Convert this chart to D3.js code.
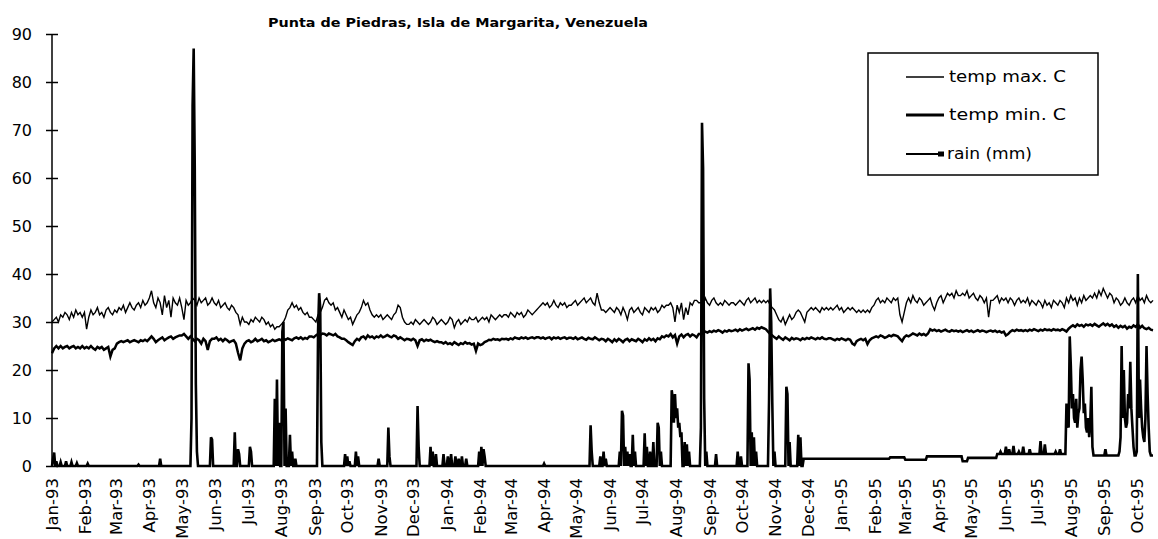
<!DOCTYPE html>
<html>
<head>
<meta charset="utf-8">
<script src="https://cdn.jsdelivr.net/npm/d3@7"></script>
<style>
  body { margin: 0; background: #fff; }
  svg { display: block; }
  text { font-family: "DejaVu Sans", sans-serif; fill: #000; }
</style>
</head>
<body>
<svg id="chart" width="1158" height="539"></svg>
<script>
// Daily weather record, Punta de Piedras station, Jan 1993 - Oct 1995
const chartTitle = "Punta de Piedras, Isla de Margarita, Venezuela";
const seriesNames = ["temp max. C", "temp min. C", "rain (mm)"];

// Temperature readings, one value every 2 days starting on firstDay
const firstDay = "1993-01-01";
const lastDay = "1995-10-16";
const stepDays = 2;

const tempMax = [
  30, 30.5, 31, 30, 31.5, 31, 32, 31.5, 30.5, 32, 31, 32.5, 31.5, 32, 31,
  32, 28.5, 31, 32.5, 31.5, 32, 33, 31.5, 32, 31, 32.5, 33, 32, 31.5, 32.5,
  32, 33, 32.5, 33.5, 32, 33, 34, 33, 32.5, 33.5, 34, 33, 34.5, 33.5, 34,
  35, 36.5, 34, 33, 35, 34, 31.5, 35.5, 33, 34.5, 31, 35, 34, 33.5, 35,
  33, 30.5, 34.5, 33.5, 34, 35, 34.5, 33.5, 35, 34, 34.5, 35, 33.5, 34, 35,
  34, 33.5, 34.5, 33, 33.5, 34, 33, 32.5, 33.5, 33, 32, 31.5, 29.5, 31, 30,
  30, 29.5, 30.5, 30, 31, 30.5, 30, 31, 30.5, 29.5, 30, 29, 29.5, 28.5, 29,
  29, 29.5, 30, 31, 32.5, 33, 34, 33, 33.5, 32.5, 33, 32, 31.5, 32, 31,
  31, 30.5, 30, 31.5, 32, 33, 34.5, 35, 34, 33.5, 34, 32.5, 33, 32, 31,
  32.5, 31.5, 30.5, 31, 29.5, 30.5, 31.5, 32, 33, 34.5, 33.5, 34, 32.5, 31.5, 31,
  31.5, 31, 31.5, 30.5, 31, 31.5, 31, 30.5, 31.5, 32, 33.5, 33, 31, 30, 29.5,
  29.5, 30, 29.5, 30.5, 30, 29.5, 30, 30.5, 30, 29.5, 30, 31, 30.5, 29.5, 30,
  30.5, 30, 29.5, 30, 31, 30.5, 28.8, 30, 30.5, 29.5, 30, 30.5, 30, 31, 30.5,
  30.5, 31, 30, 30.5, 31, 30.5, 31, 30, 31.5, 31, 30.5, 31, 31.5, 31, 31.5,
  31.5, 31, 32, 31.5, 31, 32, 31.5, 32, 31, 31.5, 32.5, 32, 31.5, 32, 32.5,
  33, 33.5, 34, 33.5, 34, 33, 33.5, 34.5, 33.5, 33, 34, 33.5, 34, 33, 33.5,
  33.5, 34, 34.5, 33.5, 34, 34.5, 35, 34, 34.5, 35, 34, 33.5, 36, 34, 32.5,
  32.5, 32, 32.5, 33, 32.5, 32, 33, 32.5, 31.5, 33, 32, 30.5, 32.5, 33, 32,
  32.5, 33, 32, 31.5, 33, 32.5, 32, 33, 32.5, 33, 32, 32.5, 33.5, 33, 33.5,
  33.5, 34, 33, 30, 33.5, 32, 34, 30.5, 33, 31.5, 34, 33.5, 34.5, 34.5, 34,
  34, 33.5, 35, 34, 33.5, 34.5, 35, 34, 33.5, 34, 33.5, 34.5, 34, 33.5, 34,
  34, 33.5, 34, 34.5, 34, 33.5, 34.5, 35, 34, 34.5, 35, 34, 34.5, 34, 34.5,
  34, 34.5, 33.5, 33, 32.5, 31.5, 30.5, 30, 31, 29.5, 30.5, 31.5, 30.5, 31, 32,
  32.5, 32, 31, 30, 32, 32.5, 33, 32.5, 33, 32.5, 32, 33, 32.5, 33, 32.5,
  33, 32.5, 33, 33.5, 32.5, 33, 32, 32.5, 33, 32.5, 33, 32.5, 32, 32.5, 32,
  32.5, 32, 32.5, 32, 33, 33.5, 34.5, 35, 34, 34.5, 34, 35, 34.5, 34, 35,
  34.5, 35, 31.5, 30, 32, 34, 35, 34, 35.5, 34.5, 34, 35, 34.5, 33.5, 34,
  34.5, 35, 33.5, 32.5, 34, 35, 35.5, 34, 35, 36, 35.5, 36, 35, 36.5, 35.5,
  35.5, 36, 35.5, 36.5, 35, 35.5, 36, 35, 34.5, 35.5, 35, 34, 35, 31, 34.5,
  34.5, 35, 35.5, 34, 35, 34.5, 35, 34, 35, 34.5, 33.5, 34.5, 35, 34, 34.5,
  34, 35, 33.5, 34.5, 34, 33.5, 34.5, 34, 33, 34.5, 33.5, 34, 33, 34.5, 34,
  33.5, 34.5, 34, 33, 35, 34, 35.5, 34.5, 35, 33.5, 35, 34, 35.5, 34.5, 35,
  35.5, 35, 36, 35, 36.5, 35.5, 37, 36, 35, 36, 35.5, 34, 35, 34.5, 33.5,
  34, 35, 34, 33.5, 34.5, 35, 34, 35.5, 34.5, 35, 34, 35.5, 34.5, 34, 34.5
];

const tempMin = [
  23.5, 24.5, 25, 24.5, 25, 24.5, 24.8, 25, 24.5, 24.8, 25, 24.5, 24.8, 24.5, 25,
  24.5, 24.8, 24.5, 25, 24.5, 24.2, 24.8, 24.5, 24.8, 24.2, 24.5, 24.8, 22.8, 24.2, 24.5,
  25.5, 25.8, 26, 25.8, 26, 26.2, 25.8, 26, 26.2, 26, 25.8, 26.2, 26, 26.3, 26,
  26.5, 27, 26.5, 25.8, 26.2, 26.5, 26.8, 26.2, 26.5, 26.8, 27, 26.5, 26.8, 27, 27.2,
  27.2, 27.5, 27, 26.5, 27, 26.5, 26, 26.5, 26.2, 25.5, 26.5, 26, 24.2, 26, 26.5,
  26.5, 26.8, 26.2, 26.5, 26, 26.5, 26.2, 25.8, 26, 26.2, 25.5, 23.6, 22, 24.5, 25.5,
  26, 26.2, 25.8, 26, 26.5, 26, 26.2, 26.5, 26, 26.2, 25.8, 26, 26.3, 26, 26.2,
  26.4, 26.2, 26.5, 26.3, 26.6, 26.4, 26.2, 26.6, 26.8, 26.5, 26.8, 26.4, 26.7, 26.5, 27,
  27, 26.8, 27.2, 27.5, 27.3, 27.6, 27.5, 27.2, 27.6, 27.4, 27.2, 27.5, 27, 26.8, 26.5,
  26.5, 26.2, 25.8, 25.5, 25.2, 26, 26.5, 26.2, 26.8, 27, 26.5, 27.2, 26.8, 27, 26.6,
  27, 26.8, 27.2, 26.8, 27, 27.3, 27, 26.8, 27.2, 27, 26.5, 26.8, 26.5, 26.2, 26.5,
  26.4, 26.2, 26.5, 26.2, 25, 26.2, 26.4, 26, 26.3, 26.1, 26.3, 26, 25.8, 26, 25.8,
  25.8, 25.5, 25.8, 25.4, 25.6, 25.3, 25.8, 25.5, 25.2, 25.6, 25.4, 25.8, 25.5, 25.6, 25.3,
  25.5, 24, 25.5, 25.2, 25.4, 25.8, 26, 26.3, 26.2, 26.5, 26.3, 26.4, 26.2, 26.5, 26.4,
  26.5, 26.3, 26.6, 26.4, 26.8, 26.6, 26.5, 26.8, 26.6, 26.8, 26.5, 26.7, 26.8, 26.6, 26.8,
  26.8, 26.6, 26.8, 26.5, 26.7, 26.8, 26.4, 26.8, 26.6, 26.8, 26.5, 26.7, 26.8, 26.5, 26.7,
  26.7, 26.5, 26.8, 26.4, 26.6, 26.8, 26.5, 26.3, 26.7, 26.5, 26.4, 26.8, 26.5, 26.2, 26.5,
  26.4, 26, 26.5, 26.2, 25.8, 26.4, 26, 26.5, 26.2, 25.8, 26.3, 26.5, 26, 26.4, 26.2,
  26, 26.5, 26.2, 25.8, 26.4, 26.1, 26.6, 26.2, 26.5, 26, 26.6, 26.4, 27, 26.8, 27.2,
  27, 27.5, 26.8, 27.3, 25.5, 27, 27.4, 26.8, 27.3, 27.5, 27, 27.4, 27.2, 26.8, 27.5,
  27.5, 27.8, 28, 27.8, 28.1, 27.9, 28.2, 28, 28.3, 28.1, 27.8, 28.2, 28, 28.3, 28.1,
  28.2, 28.4, 28.1, 28.5, 28.2, 28.4, 28.6, 28.3, 28.5, 28.7, 28.4, 28.8, 28.6, 28.9, 28.7,
  28.5, 28, 27.5, 27.2, 26.8, 26.5, 27, 26.6, 26.3, 26.8, 26.5, 26.2, 26.7, 26.4, 26.6,
  26.5, 26.2, 26.6, 26.4, 26.7, 26.5, 26.8, 26.6, 26.4, 26.7, 26.5, 26.8, 26.5, 26.4, 26.6,
  26.6, 26.4, 26.2, 26.5, 26.3, 26.6, 26.4, 26.2, 26.5, 26.3, 25.5, 25.2, 26, 26.3, 26.5,
  26.2, 26.5, 25.4, 26.2, 26.6, 26.8, 27, 26.8, 27.2, 27, 26.7, 26.9, 27.2, 27, 27.3,
  27.2, 27, 26.5, 26, 26.8, 27.2, 27, 27.3, 27.6, 27.4, 27.2, 27.6, 27.3, 27.5, 27.2,
  27.6, 28.5, 28.2, 28.4, 28.1, 28.3, 28, 28.2, 28.4, 28.1, 28, 28.3, 28.1, 28.2, 28,
  28.2, 27.9, 28.1, 28.3, 28, 28.2, 27.9, 28.1, 28.3, 28, 28.2, 28.1, 27.9, 28.1, 28.2,
  28, 28.2, 27.9, 28.1, 27.8, 28, 27.2, 27.5, 28, 28.3, 28.1, 28.4, 28.2, 28.3, 28.1,
  28.3, 28.1, 28.4, 28.2, 28.5, 28.3, 28.1, 28.4, 28.2, 28.5, 28.3, 28.4, 28.2, 28.5, 28.3,
  28.4, 28.2, 28.5, 28.3, 28, 28.6, 29, 29.3, 29, 29.5, 29.2, 29.4, 29, 29.5, 29.3,
  29.5, 29.2, 29.6, 29.3, 29, 29.4, 29.7, 29.3, 29.6, 29.2, 29.5, 29, 29.3, 28.8, 29.2,
  28.9, 29.2, 28.6, 29, 28.8, 29.3, 29, 29.5, 28.8, 29.2, 28.7, 28.5, 28.8, 28.4, 28.3
];

// Trace rainfall level recorded over longer stretches: [from, to, mm]
const rainTrace = [
  ["1994-11-27", "1995-02-14", 1.5],
  ["1995-02-15", "1995-02-28", 1.8],
  ["1995-03-01", "1995-03-20", 1.3],
  ["1995-03-21", "1995-04-22", 2],
  ["1995-04-23", "1995-04-27", 1],
  ["1995-04-28", "1995-05-24", 1.7],
  ["1995-05-25", "1995-07-27", 2.5],
  ["1995-08-22", "1995-10-16", 2.2]
];

// Rain days and amounts (mm)
const rainDays = [
  "1993-01-02", "1993-01-03", "1993-01-05", "1993-01-09", "1993-01-14", "1993-01-19", "1993-01-24",
  "1993-02-03", "1993-03-22", "1993-04-11",
  "1993-05-10", "1993-05-11", "1993-05-12", "1993-05-13", "1993-05-14", "1993-05-15",
  "1993-05-28", "1993-05-29", "1993-06-19", "1993-06-22", "1993-06-23", "1993-07-03", "1993-07-04",
  "1993-07-26", "1993-07-28", "1993-07-30", "1993-08-02", "1993-08-03", "1993-08-05", "1993-08-09", "1993-08-11", "1993-08-14",
  "1993-09-04", "1993-09-05", "1993-09-06", "1993-09-07",
  "1993-09-29", "1993-10-01", "1993-10-03", "1993-10-09", "1993-10-11",
  "1993-10-30", "1993-11-08", "1993-11-09",
  "1993-12-05", "1993-12-06", "1993-12-17", "1993-12-19", "1993-12-22", "1993-12-29",
  "1994-01-02", "1994-01-05", "1994-01-09", "1994-01-12", "1994-01-15", "1994-01-19",
  "1994-01-31", "1994-02-02", "1994-02-04", "1994-02-05", "1994-04-01",
  "1994-05-14", "1994-05-15", "1994-05-23", "1994-05-26", "1994-05-28",
  "1994-06-10", "1994-06-12", "1994-06-13", "1994-06-15", "1994-06-17", "1994-06-19", "1994-06-22", "1994-06-24",
  "1994-07-03", "1994-07-05", "1994-07-08", "1994-07-11", "1994-07-15", "1994-07-16", "1994-07-18",
  "1994-07-28", "1994-07-29", "1994-07-30", "1994-07-31", "1994-08-01", "1994-08-02", "1994-08-03", "1994-08-04",
  "1994-08-05", "1994-08-06", "1994-08-09", "1994-08-11", "1994-08-13",
  "1994-08-24", "1994-08-25", "1994-08-26", "1994-08-27", "1994-08-29",
  "1994-09-07", "1994-09-27", "1994-09-30",
  "1994-10-07", "1994-10-08", "1994-10-10", "1994-10-12", "1994-10-14",
  "1994-10-26", "1994-10-27", "1994-10-28", "1994-10-29", "1994-10-31",
  "1994-11-11", "1994-11-12", "1994-11-14", "1994-11-22", "1994-11-24",
  "1995-05-28", "1995-06-02", "1995-06-05", "1995-06-09", "1995-06-14", "1995-06-18", "1995-06-24",
  "1995-07-04", "1995-07-08", "1995-07-18", "1995-07-22",
  "1995-07-28", "1995-07-29", "1995-07-30", "1995-07-31", "1995-08-01", "1995-08-02", "1995-08-03", "1995-08-04",
  "1995-08-05", "1995-08-06", "1995-08-07", "1995-08-08", "1995-08-09", "1995-08-10", "1995-08-11", "1995-08-12",
  "1995-08-13", "1995-08-14", "1995-08-15", "1995-08-16", "1995-08-17", "1995-08-18", "1995-08-19", "1995-08-20", "1995-08-21",
  "1995-09-02", "1995-09-15", "1995-09-16", "1995-09-17", "1995-09-18", "1995-09-19", "1995-09-20", "1995-09-21",
  "1995-09-22", "1995-09-23", "1995-09-24", "1995-09-25", "1995-09-26", "1995-09-27", "1995-09-28", "1995-10-01",
  "1995-10-02", "1995-10-03", "1995-10-04", "1995-10-05", "1995-10-06", "1995-10-07", "1995-10-08", "1995-10-09",
  "1995-10-10", "1995-10-11", "1995-10-12", "1995-10-13"
];
const rainMm = [
  1.5, 2.8, 1, 0.8, 1, 0.8, 0.6,
  0.5, 0.3, 1.5,
  10, 75, 87, 62, 17, 3,
  6, 5.5, 7, 3.5, 2.5, 4, 3,
  14, 18, 9, 28, 30, 12, 6.5, 3, 1.5,
  28, 36, 33, 5,
  2.5, 2, 1, 3, 2,
  1.5, 8, 2,
  12.5, 4, 4, 3, 2.5, 2.5,
  2, 2.5, 2, 1.5, 2, 1.5,
  3, 4, 3.5, 2, 0.5,
  8.5, 3, 2, 3, 1.5,
  3, 11.5, 10.5, 4, 3, 2.5, 6.5, 3,
  6.8, 4, 3, 5, 9, 8, 3,
  15.8, 14, 9, 15, 10, 12, 8, 9,
  6, 7, 5, 4.5, 3,
  8, 71.5, 62, 14, 3,
  2.5, 3, 2,
  21.4, 18, 7, 6, 3,
  13.7, 37, 30, 13, 3,
  16.5, 15, 5, 6.5, 6,
  3, 4, 3.5, 4.2, 3, 4, 3.5,
  5.2, 4.5, 3, 3.5,
  13, 9, 8, 27, 21, 12, 15, 10,
  9, 14, 8, 11, 12, 20, 22.8, 18,
  11, 13, 8, 7, 10, 6, 9, 16.5, 4,
  3.5, 3, 6, 25, 10, 20, 10, 8,
  9, 15, 12, 21.7, 12, 8, 4, 3,
  40, 10, 18, 12, 8, 6, 5, 10,
  25, 15, 8, 3
];

const yTicks = [0, 10, 20, 30, 40, 50, 60, 70, 80, 90];
const monthLabels = [
  "Jan-93", "Feb-93", "Mar-93", "Apr-93", "May-93", "Jun-93", "Jul-93", "Aug-93", "Sep-93", "Oct-93", "Nov-93", "Dec-93",
  "Jan-94", "Feb-94", "Mar-94", "Apr-94", "May-94", "Jun-94", "Jul-94", "Aug-94", "Sep-94", "Oct-94", "Nov-94", "Dec-94",
  "Jan-95", "Feb-95", "Mar-95", "Apr-95", "May-95", "Jun-95", "Jul-95", "Aug-95", "Sep-95", "Oct-95"
];

// ---------- build series ----------
const parseDay = d3.utcParse("%Y-%m-%d");
const parseMonth = d3.utcParse("%b-%y");
const t0 = parseDay(firstDay), t1 = parseDay(lastDay);

const maxSeries = tempMax.map((v, i) => ({ date: d3.utcDay.offset(t0, i * stepDays), value: v }));
const minSeries = tempMin.map((v, i) => ({ date: d3.utcDay.offset(t0, i * stepDays), value: v }));

const rainByDay = new Map();
rainTrace.forEach(([a, b, mm]) => {
  d3.utcDay.range(parseDay(a), d3.utcDay.offset(parseDay(b), 1)).forEach(d => rainByDay.set(+d, mm));
});
rainDays.forEach((s, i) => rainByDay.set(+parseDay(s), rainMm[i]));
const rainSeries = d3.utcDay.range(t0, d3.utcDay.offset(t1, 1))
  .map(d => ({ date: d, value: rainByDay.has(+d) ? rainByDay.get(+d) : 0 }));

// ---------- scales ----------
const svg = d3.select("#chart");
const x = d3.scaleUtc().domain([t0, t1]).range([52, 1153]);
const y = d3.scaleLinear().domain([0, 90]).range([466, 34]);

// ---------- title ----------
svg.append("text")
  .attr("x", 268).attr("y", 27)
  .attr("textLength", 380).attr("lengthAdjust", "spacingAndGlyphs")
  .style("font-size", "13px").style("font-weight", "bold")
  .text(chartTitle);

// ---------- y axis ----------
const yAxis = svg.append("g").attr("transform", "translate(52,0)")
  .call(d3.axisLeft(y).tickValues(yTicks).tickSize(6).tickPadding(14));
yAxis.select(".domain").attr("stroke", "#000").attr("stroke-width", 1.5).attr("d", `M0,${y(90)}V${y(0)}`);
yAxis.selectAll(".tick line").attr("x1", -6).attr("x2", 6).attr("stroke", "#000").attr("stroke-width", 1.5);
yAxis.selectAll(".tick text").style("font-size", "16px").style("font-family", "DejaVu Sans, sans-serif").attr("fill", "#000");

// ---------- month labels ----------
const xLab = svg.append("g");
monthLabels.forEach(lbl => {
  const px = x(parseMonth(lbl));
  xLab.append("text")
    .attr("transform", `translate(${px},478) rotate(-90)`)
    .attr("text-anchor", "end")
    .attr("dy", "0.36em")
    .style("font-size", "16.5px")
    .text(lbl);
});

// ---------- series ----------
const line = d3.line().x(d => x(d.date)).y(d => y(d.value));
svg.append("path").datum(maxSeries).attr("d", line)
  .attr("fill", "none").attr("stroke", "#000").attr("stroke-width", 1.4).attr("stroke-linejoin", "miter");
svg.append("path").datum(minSeries).attr("d", line)
  .attr("fill", "none").attr("stroke", "#000").attr("stroke-width", 2.5);
svg.append("path").datum(rainSeries).attr("d", line)
  .attr("fill", "none").attr("stroke", "#000").attr("stroke-width", 2.6);

// ---------- legend ----------
const lg = svg.append("g");
lg.append("rect").attr("x", 868).attr("y", 53).attr("width", 230).attr("height", 122)
  .attr("fill", "#fff").attr("stroke", "#000").attr("stroke-width", 1.5);
const legendRows = [
  { name: seriesNames[0], y: 77, w: 1.3, tw: 117 },
  { name: seriesNames[1], y: 115, w: 3, tw: 117 },
  { name: seriesNames[2], y: 154, w: 2, tw: 85 }
];
legendRows.forEach((r, i) => {
  lg.append("line").attr("x1", 906).attr("x2", 944).attr("y1", r.y).attr("y2", r.y)
    .attr("stroke", "#000").attr("stroke-width", r.w);
  if (i === 2) {
    lg.append("rect").attr("x", 938).attr("y", r.y - 2.5).attr("width", 6).attr("height", 5).attr("fill", "#000");
  }
  lg.append("text").attr("x", i === 2 ? 947 : 949).attr("y", r.y).attr("dy", "0.36em")
    .attr("textLength", r.tw).attr("lengthAdjust", "spacingAndGlyphs")
    .style("font-size", "15px").text(r.name);
});
</script>
</body>
</html>
